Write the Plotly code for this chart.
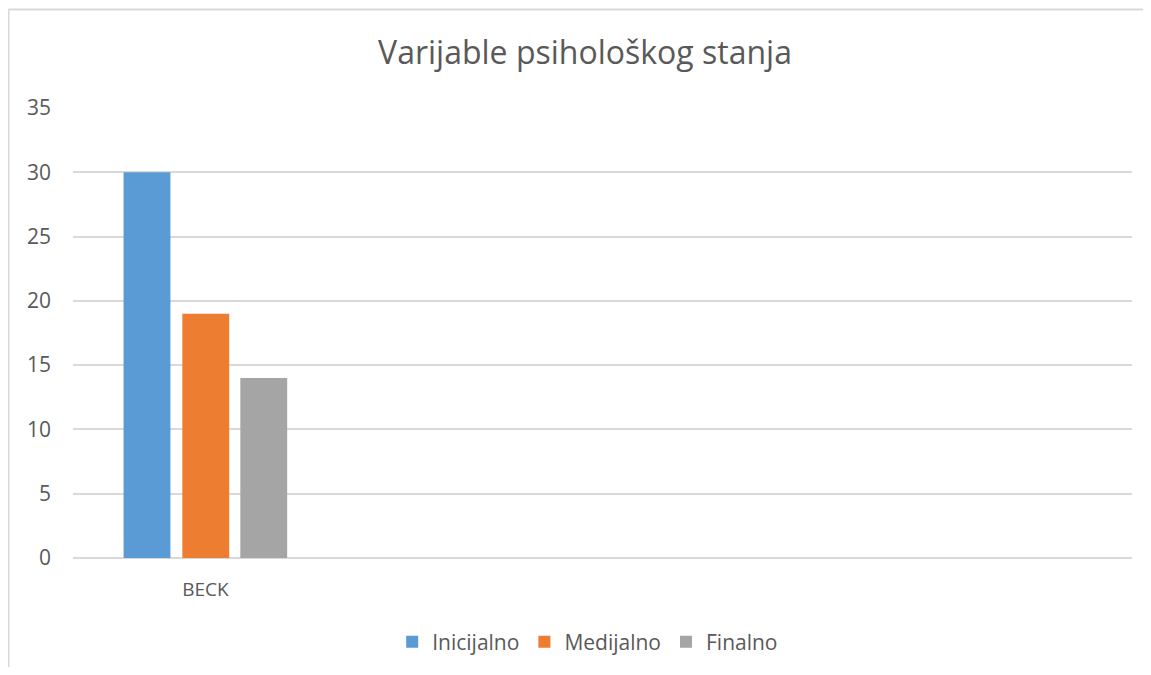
import plotly.graph_objects as go

categories = ["BECK"]
series_names = ["Inicijalno", "Medijalno", "Finalno"]
inicijalno = [30]
medijalno = [19]
finalno = [14]
colors = ["#5B9BD5", "#ED7D31", "#A5A5A5"]
y_ticks = [0, 5, 10, 15, 20, 25, 30, 35]

values = [inicijalno, medijalno, finalno]
offsets = [-0.309, -0.087, 0.132]
bar_w = 0.177
xpos = list(range(len(categories)))

fig = go.Figure()
for name, vals, col, off in zip(series_names, values, colors, offsets):
    fig.add_trace(go.Bar(
        x=xpos, y=vals, name=name, marker=dict(color=col, line=dict(width=0)),
        width=bar_w, offset=off,
    ))

font_fam = "Open Sans, Liberation Sans, sans-serif"
border = dict(color="#d9d9d9", width=2)
fig.update_layout(
    width=1135, height=659,
    margin=dict(l=65, r=11, t=100, b=109, autoexpand=False),
    paper_bgcolor="white", plot_bgcolor="white",
    barmode="overlay",
    title=dict(text="Varijable psihološkog stanja", x=577 / 1135, xref="container", xanchor="center",
               y=1 - 45 / 659, yref="container", yanchor="middle",
               font=dict(family=font_fam, size=32, color="#595959")),
    xaxis=dict(range=[-0.5, 3.5], tickvals=xpos, ticktext=categories, automargin=False,
               showgrid=False, zeroline=False, showline=False, ticks="",
               ticklabelstandoff=18,
               tickfont=dict(family=font_fam, size=19, color="#595959")),
    yaxis=dict(range=[0, 35], tickvals=y_ticks, showgrid=True, gridcolor="#d9d9d9", gridwidth=1.5,
               automargin=False,
               zeroline=True, zerolinecolor="#d9d9d9", zerolinewidth=1.5, showline=False, ticks="",
               ticklabelstandoff=21,
               tickfont=dict(family=font_fam, size=21, color="#595959")),
    legend=dict(orientation="h", x=0.486, xanchor="center", y=-0.187, yanchor="middle",
                font=dict(family=font_fam, size=21, color="#595959"),
                itemwidth=30, traceorder="normal"),
    showlegend=True,
    shapes=[
        dict(type="line", xref="paper", yref="paper", x0=-0.0609, y0=-0.5, x1=-0.0609, y1=1.219,
             line=border, layer="below"),
        dict(type="line", xref="paper", yref="paper", x0=-0.0609, y0=1.219, x1=1.3, y1=1.219,
             line=border, layer="below"),
    ],
)

fig.write_html("out.html")
